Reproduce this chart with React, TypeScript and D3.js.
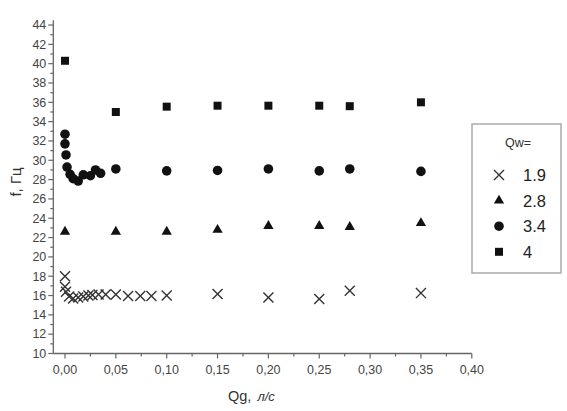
import React from 'react';
import * as d3 from 'd3';

// Qw = 1.9 (crosses)
const qg19 = [0, 0, 0.001, 0.004, 0.008, 0.013, 0.018, 0.023, 0.027, 0.033, 0.04, 0.05, 0.062, 0.074, 0.085, 0.1, 0.15, 0.2, 0.25, 0.28, 0.35];
const f19 = [18.0, 16.9, 16.4, 15.9, 15.7, 15.8, 15.9, 16.0, 16.05, 16.1, 16.1, 16.1, 15.95, 15.95, 15.95, 16.0, 16.15, 15.8, 15.65, 16.5, 16.25];

// Qw = 2.8 (triangles)
const qg28 = [0, 0.05, 0.1, 0.15, 0.2, 0.25, 0.28, 0.35];
const f28 = [22.6, 22.6, 22.6, 22.8, 23.2, 23.2, 23.1, 23.5];

// Qw = 3.4 (circles)
const qg34 = [0, 0, 0.001, 0.002, 0.005, 0.008, 0.013, 0.018, 0.025, 0.03, 0.035, 0.05, 0.1, 0.15, 0.2, 0.25, 0.28, 0.35];
const f34 = [32.7, 31.7, 30.55, 29.3, 28.55, 28.1, 27.85, 28.5, 28.4, 29.0, 28.65, 29.1, 28.9, 28.95, 29.1, 28.9, 29.1, 28.85];

// Qw = 4 (squares)
const qg4 = [0, 0.05, 0.1, 0.15, 0.2, 0.25, 0.28, 0.35];
const f4 = [40.3, 35.0, 35.55, 35.65, 35.65, 35.65, 35.6, 36.0];

const legendLabels = ['1.9', '2.8', '3.4', '4'];
const xTicks = [0, 0.05, 0.1, 0.15, 0.2, 0.25, 0.3, 0.35, 0.4];
const yTicks = d3.range(10, 45, 2);

const W = 567;
const H = 411;

const x = d3.scaleLinear().domain([-0.0115, 0.4]).range([53.3, 471.8]);
const y = d3.scaleLinear().domain([10, 44.5]).range([353.5, 20.2]);

const symCross = d3.symbol().type(d3.symbolX).size(67)();
const symTri = d3.symbol().type(d3.symbolTriangle).size(46)();
const symCircle = d3.symbol().type(d3.symbolCircle).size(72)();
const symSquare = d3.symbol().type(d3.symbolSquare).size(64)();

const series = [
  { xs: qg19, ys: f19, path: symCross, stroke: true },
  { xs: qg28, ys: f28, path: symTri, stroke: false },
  { xs: qg34, ys: f34, path: symCircle, stroke: false },
  { xs: qg4, ys: f4, path: symSquare, stroke: false },
];

const axisColor = '#666';
const font = '"Liberation Sans", Arial, sans-serif';

const Marker = ({ d, cx, cy, stroke }: { d: string | null; cx: number; cy: number; stroke: boolean }) =>
  stroke ? (
    <path d={d || ''} transform={`translate(${cx},${cy})`} fill="none" stroke="#333" strokeWidth={1.4} />
  ) : (
    <path d={d || ''} transform={`translate(${cx},${cy})`} fill="#111" />
  );

export default function App() {
  const x0 = x.range()[0];
  const y0 = y.range()[0];
  const minorX = d3.range(0.025, 0.4, 0.05);
  const minorY = d3.range(11, 45, 2);

  return (
    <svg width={W} height={H} style={{ position: 'absolute', left: 0, top: 0, background: '#fff' }} fontFamily={font}>
      <rect width={W} height={H} fill="#fff" />

      {/* axes */}
      <line x1={x0} x2={x.range()[1]} y1={y0} y2={y0} stroke={axisColor} strokeWidth={1.3} />
      <line x1={x0} x2={x0} y1={y0} y2={y.range()[1]} stroke={axisColor} strokeWidth={1.3} />

      {xTicks.map((t) => (
        <g key={'xt' + t}>
          <line x1={x(t)} x2={x(t)} y1={y0} y2={y0 + 5} stroke={axisColor} strokeWidth={1.2} />
          <text x={x(t)} y={y0 + 20} textAnchor="middle" fontSize={12.5} fill="#444">
            {t.toFixed(2).replace('.', ',')}
          </text>
        </g>
      ))}
      {minorX.map((t) => (
        <line key={'xm' + t} x1={x(t)} x2={x(t)} y1={y0} y2={y0 + 3} stroke={axisColor} strokeWidth={1.2} />
      ))}

      {yTicks.map((t) => (
        <g key={'yt' + t}>
          <line x1={x0 - 5} x2={x0} y1={y(t)} y2={y(t)} stroke={axisColor} strokeWidth={1.2} />
          <text x={x0 - 7} y={y(t) + 4.3} textAnchor="end" fontSize={12.5} fill="#444">
            {t}
          </text>
        </g>
      ))}
      {minorY.map((t) => (
        <line key={'ym' + t} x1={x0 - 3} x2={x0} y1={y(t)} y2={y(t)} stroke={axisColor} strokeWidth={1.2} />
      ))}

      {/* axis titles */}
      <text transform="translate(21,182) rotate(-90)" textAnchor="middle" fontSize={15} fill="#333">
        f, Гц
      </text>
      <text x={228} y={401} fontSize={14.5} fill="#333">
        Qg,
        <tspan dx={6} fontStyle="italic" fontSize={13}>л/с</tspan>
      </text>

      {/* points */}
      {series.map((s, si) =>
        s.xs.map((v, i) => (
          <Marker key={si + '-' + i} d={s.path} cx={x(v)} cy={y(s.ys[i])} stroke={s.stroke} />
        ))
      )}

      {/* legend */}
      <rect x={472} y={124} width={89} height={149} fill="#fff" stroke="#aaa" strokeWidth={1.5} />
      <text x={518} y={147} textAnchor="middle" fontSize={12.5} fill="#333">
        Qw=
      </text>
      {legendLabels.map((l, i) => (
        <g key={'lg' + l}>
          <Marker d={series[i].path} cx={499} cy={175 + i * 25.6} stroke={series[i].stroke} />
          <text x={523} y={175 + i * 25.6 + 6} fontSize={16.5} fill="#222">
            {l}
          </text>
        </g>
      ))}
    </svg>
  );
}
